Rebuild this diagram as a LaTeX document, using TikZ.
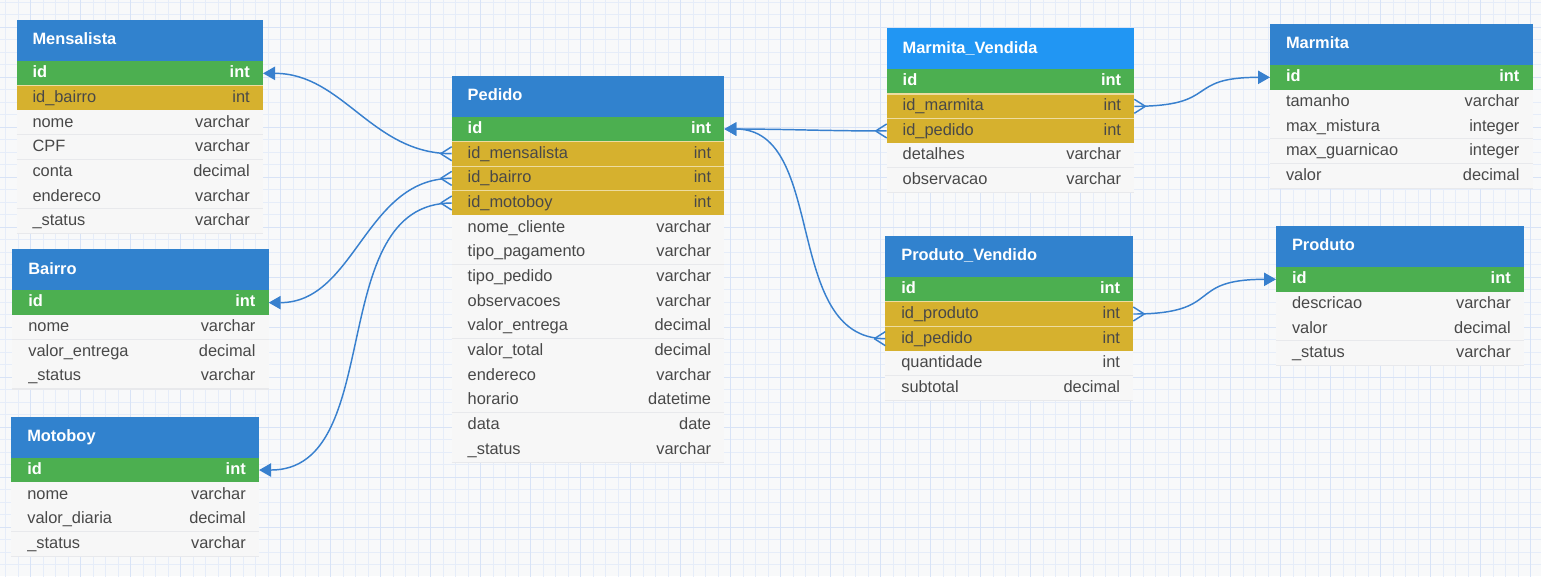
\documentclass[tikz,border=0pt]{standalone}
\usepackage{fontspec}
\setmainfont{Liberation Sans}
\usepackage{tikz}
\usetikzlibrary{arrows.meta,calc,positioning}
\definecolor{hdrblue}{RGB}{49,130,206}
\definecolor{hdrlight}{RGB}{33,150,243}
\definecolor{pkgreen}{RGB}{76,175,80}
\definecolor{fkgold}{RGB}{214,177,46}
\definecolor{rowgray}{RGB}{247,247,247}
\definecolor{sepgray}{RGB}{232,233,236}
\definecolor{txtgray}{RGB}{72,72,72}
\definecolor{linkblue}{RGB}{56,128,206}
\definecolor{bgpaper}{RGB}{248,249,250}
\definecolor{gridminor}{RGB}{230,237,249}
\definecolor{gridmajor}{RGB}{216,227,246}
\newcommand{\tblfont}{\fontsize{12.3}{14}\selectfont}
\newcommand{\crow}[2]{%
  \draw [link] ($(#1)+(#2,0)$) -- ($(#1)+(0,-7)$)
               ($(#1)+(#2,0)$) -- ($(#1)+(0,7)$);}
\def\tw{160pt}
\tikzstyle{link}=[draw=linkblue, line width=1.1pt]
\tikzstyle{one}=[-{Triangle[length=9pt,width=10pt]}]
\tikzstyle{cell} =
  [rectangle, inner xsep=12pt, inner ysep=0pt, outer sep=0pt,
   text width=\tw, align=left, text height=9pt, text depth=2.5pt,
   text=txtgray, font=\tblfont]
\tikzstyle{hdr} =
  [cell, fill=hdrblue, text=white, font=\tblfont\bfseries,
   minimum height=30.75pt, anchor=north west]
\tikzstyle{pk} =
  [cell, fill=pkgreen, text=white, font=\tblfont\bfseries, minimum height=18.5pt]
\tikzstyle{fk} =
  [cell, fill=fkgold, minimum height=18.5pt,
   append after command={(\tikzlastnode.north west)
     edge [draw=fkgold!45!white, line width=0.8pt] (\tikzlastnode.north east)}]
\tikzstyle{fld} =
  [cell, fill=rowgray, minimum height=18.5pt,
   append after command={(\tikzlastnode.south west)
     edge [draw=sepgray, line width=0.8pt] (\tikzlastnode.south east)}]
\tikzstyle{typ} =
  [anchor=east, xshift=-9.75pt, inner sep=0pt, text height=9pt,
   text depth=2.5pt, text=txtgray, font=\tblfont]
\tikzstyle{pktyp}=[typ, text=white, font=\tblfont\bfseries]

\begin{document}
\begin{tikzpicture}[x=0.75pt, y=-0.75pt, node distance=18.5pt]
  \useasboundingbox (0,0) rectangle (1541,576);
  \fill [bgpaper] (0,0) rectangle (1541,576);
  \begin{scope}
    \clip (0,0) rectangle (1541,576);
    \draw [gridminor, line width=0.5pt, step=9.375pt, shift={(30.7,27)}]
      (-40,-40) grid (1520,560);
    \draw [gridmajor, line width=0.6pt, step=37.5pt, shift={(30.7,27)}]
      (-40,-40) grid (1520,560);
  \end{scope}

  % Mensalista
  \def\tw{160.9pt}
  \node [hdr] (mh) at (16.5,20) {Mensalista};
  \node [pk, below of=mh, node distance=24.625pt, label={[pktyp]east:int}] (m1) {id};
  \node [fk, below of=m1, label={[typ]east:int}] (m2) {id\_bairro};
  \node [fld, below of=m2, label={[typ]east:varchar}] (m3) {nome};
  \node [fld, below of=m3, label={[typ]east:varchar}] (m4) {CPF};
  \node [fld, below of=m4, label={[typ]east:decimal}] (m5) {conta};
  \node [fld, below of=m5, label={[typ]east:varchar}] (m6) {endereco};
  \node [fld, below of=m6, label={[typ]east:varchar}] (m7) {\_status};

  % Bairro
  \def\tw{168.3pt}
  \node [hdr] (bh) at (12.3,249.3) {Bairro};
  \node [pk, below of=bh, node distance=24.625pt, label={[pktyp]east:int}] (b1) {id};
  \node [fld, below of=b1, label={[typ]east:varchar}] (b2) {nome};
  \node [fld, below of=b2, label={[typ]east:decimal}] (b3) {valor\_entrega};
  \node [fld, below of=b3, label={[typ]east:varchar}] (b4) {\_status};

  % Motoboy
  \def\tw{161.8pt}
  \node [hdr] (oh) at (11.3,416.7) {Motoboy};
  \node [pk, below of=oh, node distance=24.625pt, label={[pktyp]east:int}] (o1) {id};
  \node [fld, below of=o1, label={[typ]east:varchar}] (o2) {nome};
  \node [fld, below of=o2, label={[typ]east:decimal}] (o3) {valor\_diaria};
  \node [fld, below of=o3, label={[typ]east:varchar}] (o4) {\_status};

  % Pedido
  \def\tw{180.5pt}
  \node [hdr] (ph) at (451.7,75.7) {Pedido};
  \node [pk, below of=ph, node distance=24.625pt, label={[pktyp]east:int}] (p1) {id};
  \node [fk, below of=p1, label={[typ]east:int}] (p2) {id\_mensalista};
  \node [fk, below of=p2, label={[typ]east:int}] (p3) {id\_bairro};
  \node [fk, below of=p3, label={[typ]east:int}] (p4) {id\_motoboy};
  \node [fld, below of=p4, label={[typ]east:varchar}] (p5) {nome\_cliente};
  \node [fld, below of=p5, label={[typ]east:varchar}] (p6) {tipo\_pagamento};
  \node [fld, below of=p6, label={[typ]east:varchar}] (p7) {tipo\_pedido};
  \node [fld, below of=p7, label={[typ]east:varchar}] (p8) {observacoes};
  \node [fld, below of=p8, label={[typ]east:decimal}] (p9) {valor\_entrega};
  \node [fld, below of=p9, label={[typ]east:decimal}] (p10) {valor\_total};
  \node [fld, below of=p10, label={[typ]east:varchar}] (p11) {endereco};
  \node [fld, below of=p11, label={[typ]east:datetime}] (p12) {horario};
  \node [fld, below of=p12, label={[typ]east:date}] (p13) {data};
  \node [fld, below of=p13, label={[typ]east:varchar}] (p14) {\_status};

  % Marmita_Vendida
  \def\tw{161.7pt}
  \node [hdr, fill=hdrlight] (vh) at (886.7,28.3) {Marmita\_Vendida};
  \node [pk, below of=vh, node distance=24.625pt, label={[pktyp]east:int}] (v1) {id};
  \node [fk, below of=v1, label={[typ]east:int}] (v2) {id\_marmita};
  \node [fk, below of=v2, label={[typ]east:int}] (v3) {id\_pedido};
  \node [fld, below of=v3, label={[typ]east:varchar}] (v4) {detalhes};
  \node [fld, below of=v4, label={[typ]east:varchar}] (v5) {observacao};

  % Produto_Vendido
  \def\tw{162pt}
  \node [hdr] (qh) at (885.3,236) {Produto\_Vendido};
  \node [pk, below of=qh, node distance=24.625pt, label={[pktyp]east:int}] (q1) {id};
  \node [fk, below of=q1, label={[typ]east:int}] (q2) {id\_produto};
  \node [fk, below of=q2, label={[typ]east:int}] (q3) {id\_pedido};
  \node [fld, below of=q3, label={[typ]east:int}] (q4) {quantidade};
  \node [fld, below of=q4, label={[typ]east:decimal}] (q5) {subtotal};

  % Marmita
  \def\tw{173pt}
  \node [hdr] (kh) at (1270,24) {Marmita};
  \node [pk, below of=kh, node distance=24.625pt, label={[pktyp]east:int}] (k1) {id};
  \node [fld, below of=k1, label={[typ]east:varchar}] (k2) {tamanho};
  \node [fld, below of=k2, label={[typ]east:integer}] (k3) {max\_mistura};
  \node [fld, below of=k3, label={[typ]east:integer}] (k4) {max\_guarnicao};
  \node [fld, below of=k4, label={[typ]east:decimal}] (k5) {valor};

  % Produto
  \def\tw{162pt}
  \node [hdr] (rh) at (1276,226) {Produto};
  \node [pk, below of=rh, node distance=24.625pt, label={[pktyp]east:int}] (r1) {id};
  \node [fld, below of=r1, label={[typ]east:varchar}] (r2) {descricao};
  \node [fld, below of=r2, label={[typ]east:decimal}] (r3) {valor};
  \node [fld, below of=r3, label={[typ]east:varchar}] (r4) {\_status};

  % relations
  \draw [link, one] (p2.west) to [out=180, in=0] (m1.east);
  \crow{p2.west}{-11}
  \draw [link, one] (p3.west) to [out=180, in=0] (b1.east);
  \crow{p3.west}{-11}
  \draw [link, one] (p4.west) to [out=180, in=0] (o1.east);
  \crow{p4.west}{-11}
  \draw [link, one] (v3.west) to [out=180, in=0] (p1.east);
  \crow{v3.west}{-11}
  \draw [link, one] (q3.west) to [out=180, in=0] (p1.east);
  \crow{q3.west}{-11}
  \draw [link, one] (v2.east) to [out=0, in=180, looseness=1.6] (k1.west);
  \crow{v2.east}{11}
  \draw [link, one] (q2.east) to [out=0, in=180, looseness=1.6] (r1.west);
  \crow{q2.east}{11}
\end{tikzpicture}
\end{document}
